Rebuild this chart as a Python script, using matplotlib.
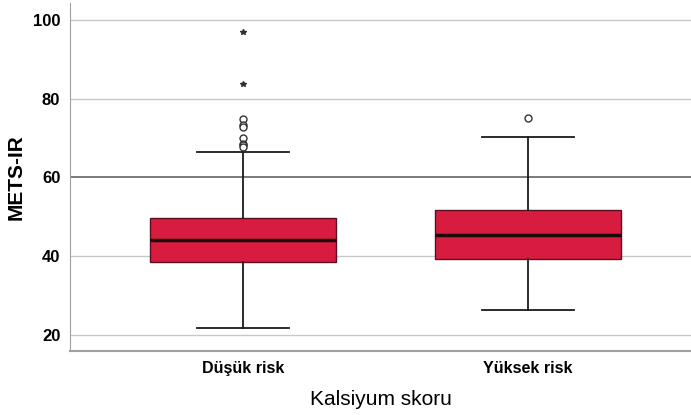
import matplotlib
matplotlib.use('Agg')
import matplotlib.pyplot as plt

# data
categories = ['Düşük risk', 'Yüksek risk']
q1 = [38.5, 39.3]
med = [44.1, 45.3]
q3 = [49.7, 51.6]
whislo = [21.8, 26.4]
whishi = [66.4, 70.2]
outliers_circle = [[74.7, 73.4, 72.8, 70.0, 68.6, 68.2, 67.6], [75.1]]
outliers_star = [[96.9, 83.8], []]

yticks = [20, 40, 60, 80, 100]
ref_line = 60

plt.rcParams['font.family'] = ['Liberation Sans', 'DejaVu Sans']

fig = plt.figure(figsize=(6.91, 4.15), dpi=100)
ax = fig.add_axes([0.1013, 0.154, 0.8987, 0.839])

stats = []
for i, name in enumerate(categories):
    stats.append(dict(label=name, q1=q1[i], med=med[i], q3=q3[i],
                      whislo=whislo[i], whishi=whishi[i], fliers=[]))

positions = list(range(len(categories)))

for y in yticks:
    if y == ref_line:
        ax.axhline(y, color='#707070', lw=1.3, zorder=0)
    else:
        ax.axhline(y, color='#c8c8c8', lw=1.0, zorder=0)

ax.bxp(stats, positions=positions, widths=0.65, patch_artist=True,
       showfliers=False,
       boxprops=dict(facecolor='#d81c40', edgecolor='#5a1020', linewidth=1.0),
       medianprops=dict(color='#1a0a0a', linewidth=2.5),
       whiskerprops=dict(color='#1a1a1a', linewidth=1.3),
       capprops=dict(color='#1a1a1a', linewidth=1.3),
       capwidths=0.32)

for i, pos in enumerate(positions):
    if outliers_circle[i]:
        ax.plot([pos] * len(outliers_circle[i]), outliers_circle[i], 'o',
                mfc='white', mec='#333333', ms=5, mew=1.0, zorder=3)
    if outliers_star[i]:
        ax.plot([pos] * len(outliers_star[i]), outliers_star[i], '*',
                color='#333333', ms=4, zorder=3)

ax.set_xlim(-0.607, 1.572)
ax.set_ylim(15.9, 104.3)
ax.set_yticks(yticks)
ax.set_xticks(positions)
ax.set_xticklabels(categories, fontsize=11.5, fontweight='bold')
for lab in ax.get_yticklabels():
    lab.set_fontsize(12)
    lab.set_fontweight('bold')
ax.tick_params(axis='x', length=0, pad=7)
ax.tick_params(axis='y', length=0, pad=7)

for s in ['top', 'right']:
    ax.spines[s].set_visible(False)
ax.spines['left'].set_color('#a0a0a0')
ax.spines['bottom'].set_color('#a0a0a0')
ax.spines['bottom'].set_linewidth(1.5)

ax.set_ylabel('METS-IR', fontsize=15, fontweight='bold')
ax.yaxis.set_label_coords(-0.071, 0.5)
ax.set_xlabel('Kalsiyum skoru', fontsize=15, fontweight='medium', labelpad=10)

fig.savefig('out.png', dpi=100)
